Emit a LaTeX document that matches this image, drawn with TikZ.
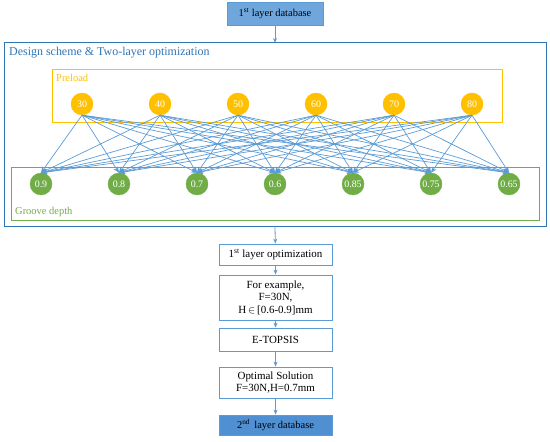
\documentclass[tikz,border=0pt]{standalone}
\usepackage{fontspec}
\setmainfont{Liberation Serif}
\usetikzlibrary{arrows.meta}
\definecolor{fblue}{HTML}{2E75B6}
\definecolor{lblue}{HTML}{5B9BD5}
\definecolor{topfill}{HTML}{6FA6DC}
\definecolor{botfill}{HTML}{4F8FD2}
\definecolor{orng}{HTML}{FFC000}
\definecolor{grn}{HTML}{70AD47}
\tikzset{
  pnode/.style={circle,fill=orng,draw=orng,minimum size=22bp,inner sep=0pt,text=white,font=\fontsize{10}{11}\selectfont},
  gnode/.style={circle,fill=grn,draw=grn,minimum size=22bp,inner sep=0pt,text=white,font=\fontsize{10}{11}\selectfont},
  flowbox/.style={draw=lblue,fill=white,line width=0.8pt,minimum width=113bp,align=center,inner sep=1pt,font=\fontsize{11}{12.5}\selectfont},
  dbbox/.style={draw=lblue,line width=0.8pt,minimum width=96bp,minimum height=23bp,inner sep=1pt,font=\fontsize{10.5}{12}\selectfont},
  conn/.style={draw=lblue,line width=0.7pt,-{Stealth[length=6bp,width=5bp]}},
  flow/.style={draw=lblue,line width=0.8pt,-{Stealth[length=5bp,width=4bp]}}
}
\begin{document}
\begin{tikzpicture}[x=1bp,y=-1bp]
\useasboundingbox (0,0) rectangle (550,442);
% top database
\node[dbbox,fill=topfill] (db1) at (275,13.5) {1\textsuperscript{st} layer database};
% outer box
\draw[fblue,line width=1pt] (4,43) rectangle (546,226);
\node[anchor=west,text=fblue,font=\fontsize{12}{14}\selectfont,inner sep=0pt] (title) at (9,53) {Design scheme \& Two-layer optimization};
\coordinate (outtop) at (275,43);
\coordinate (outbot) at (275,226);
% preload box
\draw[orng,line width=0.8pt] (52,69) rectangle (502,122);
\node[anchor=west,text=orng,font=\fontsize{10.5}{12}\selectfont,inner sep=0pt] (pl) at (56,78) {Preload};
% groove box
\draw[grn,line width=0.8pt] (11,167) rectangle (539,220);
\node[anchor=west,text=grn,font=\fontsize{10.5}{12}\selectfont,inner sep=0pt] (gd) at (15,212) {Groove depth};
% preload nodes
\foreach \v [count=\i] in {30,40,50,60,70,80}
  \node[pnode] (p\i) at ({82+78*(\i-1)},104) {\v};
% groove nodes
\foreach \v [count=\j] in {0.9,0.8,0.7,0.6,0.85,0.75,0.65}
  \node[gnode] (g\j) at ({41+78*(\j-1)},184) {\v};
% mesh
\foreach \i in {1,...,6}
  \foreach \j in {1,...,7}
    \draw[conn] (p\i.south) -- (g\j.north);
% flow boxes
\node[flowbox,minimum height=21bp] (b1) at (275.5,254.5) {1\textsuperscript{st} layer optimization};
\node[flowbox,minimum height=45bp] (b2) at (275.5,297.5) {For example,\\F=30N,\\H\,$\in$\,[0.6-0.9]mm};
\node[flowbox,minimum height=23bp] (b3) at (275.5,339.5) {E-TOPSIS};
\node[flowbox,minimum height=31bp] (b4) at (275.5,382.5) {Optimal Solution\\F=30N,H=0.7mm};
\node[dbbox,fill=botfill,minimum width=113bp,minimum height=20bp] (db2) at (275.5,425) {2\textsuperscript{nd}\, layer database};
\draw[flow] (db1) -- (outtop);
\draw[flow] (outbot) -- (b1);
\draw[flow] (b1) -- (b2);
\draw[flow] (b2) -- (b3);
\draw[flow] (b3) -- (b4);
\draw[flow] (b4) -- (db2);
\end{tikzpicture}
\end{document}
